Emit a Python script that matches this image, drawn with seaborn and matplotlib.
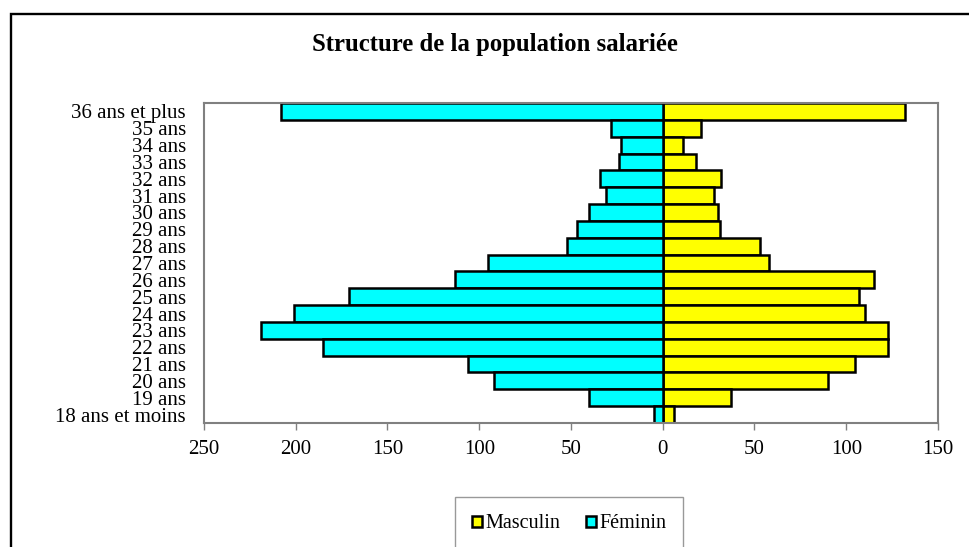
import pandas as pd
import numpy as np
import matplotlib.pyplot as plt
import matplotlib.patches as mpatches
import seaborn as sns

sns.set_style("white")
plt.rcParams['font.family'] = ['Liberation Serif', 'DejaVu Serif']
plt.rcParams['text.color'] = 'black'
plt.rcParams['xtick.color'] = 'black'
plt.rcParams['ytick.color'] = 'black'

# données (lecture du graphique)
ages = ['36 ans et plus', '35 ans', '34 ans', '33 ans', '32 ans', '31 ans', '30 ans',
        '29 ans', '28 ans', '27 ans', '26 ans', '25 ans', '24 ans', '23 ans',
        '22 ans', '21 ans', '20 ans', '19 ans', '18 ans et moins']
masculin = [132, 21, 11, 18, 32, 28, 30, 31, 53, 58, 115, 107, 110, 123, 123, 105, 90, 37, 6]
feminin = [208, 28, 23, 24, 34, 31, 40, 47, 52, 95, 113, 171, 201, 219, 185, 106, 92, 40, 5]
xticks = [-250, -200, -150, -100, -50, 0, 50, 100, 150]

df = pd.concat([
    pd.DataFrame({'age': ages, 'sexe': 'Masculin', 'effectif': masculin}),
    pd.DataFrame({'age': ages, 'sexe': 'Féminin', 'effectif': [-v for v in feminin]}),
])

fig = plt.figure(figsize=(9.7, 5.47), dpi=100)
ax = fig.add_axes([204/970, 1-423/547, 734/970, 320/547])

sns.barplot(data=df, x='effectif', y='age', hue='sexe', order=ages,
            hue_order=['Masculin', 'Féminin'], palette=['#ffff00', '#00ffff'],
            saturation=1, dodge=False, width=1.0, edgecolor='black', linewidth=1.8,
            orient='h', ax=ax, legend=False)

ax.set_xlim(-250, 150)
ax.set_ylim(len(ages) - 0.5, -0.5)
ax.set_xticks(xticks)
ax.set_xticklabels([str(abs(v)) for v in xticks], fontsize=15)
ax.tick_params(axis='y', length=0, labelsize=15, pad=13, labelcolor='black')
ax.tick_params(axis='x', bottom=True, length=5, color='#808080', width=1, pad=7,
               labelcolor='black')
ax.set_xlabel('')
ax.set_ylabel('')
for s in ax.spines.values():
    s.set_color('#808080')
    s.set_linewidth(1.5)
ax.grid(False)

fig.text(495/970, 1-45/547, 'Structure de la population salariée', ha='center',
         va='center', fontsize=17.8, fontweight='bold', color='black')

handles = [mpatches.Patch(facecolor='#ffff00', edgecolor='black', linewidth=1.8, label='Masculin'),
           mpatches.Patch(facecolor='#00ffff', edgecolor='black', linewidth=1.8, label='Féminin')]
leg = fig.legend(handles=handles, loc='center', bbox_to_anchor=(569/970, 1-524/547),
                 ncol=2, fontsize=14.5, frameon=True, fancybox=False, handlelength=0.5,
                 handleheight=0.5, handletextpad=0.15, columnspacing=1.3,
                 borderpad=0.85, borderaxespad=0)
leg.get_frame().set_edgecolor('#808080')
leg.get_frame().set_linewidth(1)
for t in leg.get_texts():
    t.set_color('black')

# cadre extérieur
fig.patches.append(mpatches.Rectangle((11/970, -0.1), 1.0, 1.1 - 14/547, fill=False,
                                      edgecolor='black', linewidth=1.7,
                                      transform=fig.transFigure, figure=fig))

fig.savefig('out.png', dpi=100)
